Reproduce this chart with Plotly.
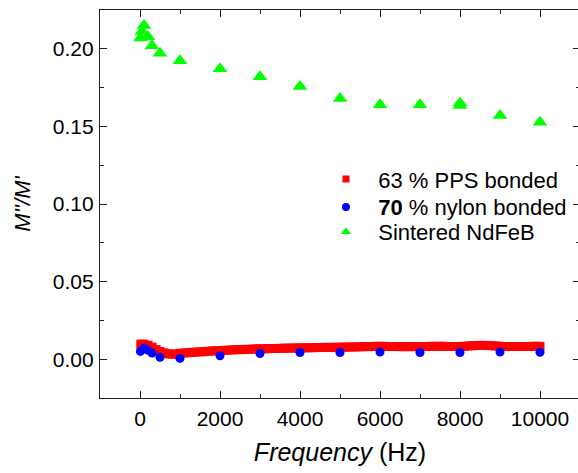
import plotly.graph_objects as go

# ---- data ----
pps_freq = [20, 50, 100, 200, 300, 400, 500, 600, 700, 800, 900,
            1000, 1100, 1200, 1300, 1400, 1500, 1600, 1700, 1800, 1900,
            2000, 2100, 2200, 2300, 2400, 2500, 2600, 2700, 2800, 2900,
            3000, 3100, 3200, 3300, 3400, 3500, 3600, 3700, 3800, 3900,
            4000, 4100, 4200, 4300, 4400, 4500, 4600, 4700, 4800, 4900,
            5000, 5100, 5200, 5300, 5400, 5500, 5600, 5700, 5800, 5900,
            6000, 6100, 6200, 6300, 6400, 6500, 6600, 6700, 6800, 6900,
            7000, 7100, 7200, 7300, 7400, 7500, 7600, 7700, 7800, 7900,
            8000, 8100, 8200, 8300, 8400, 8500, 8600, 8700, 8800, 8900,
            9000, 9100, 9200, 9300, 9400, 9500, 9600, 9700, 9800, 9900,
            10000]
pps_ratio = [0.0096, 0.0097, 0.0096, 0.0090, 0.0078, 0.0062, 0.0050, 0.0041, 0.0035, 0.0032, 0.0034,
             0.0038, 0.0040, 0.0042, 0.0044, 0.0046, 0.0047, 0.0049, 0.0051, 0.0053, 0.0054,
             0.0056, 0.0057, 0.0058, 0.0060, 0.0061, 0.0062, 0.0063, 0.0063, 0.0065, 0.0066,
             0.0067, 0.0067, 0.0068, 0.0069, 0.0069, 0.0070, 0.0071, 0.0071, 0.0072, 0.0072,
             0.0073, 0.0073, 0.0074, 0.0074, 0.0075, 0.0075, 0.0076, 0.0076, 0.0076, 0.0077,
             0.0077, 0.0078, 0.0078, 0.0079, 0.0079, 0.0080, 0.0081, 0.0081, 0.0082, 0.0083,
             0.0083, 0.0083, 0.0082, 0.0082, 0.0082, 0.0081, 0.0081, 0.0081, 0.0081, 0.0081,
             0.0081, 0.0082, 0.0082, 0.0083, 0.0083, 0.0083, 0.0083, 0.0082, 0.0082, 0.0082,
             0.0082, 0.0083, 0.0085, 0.0087, 0.0088, 0.0089, 0.0089, 0.0088, 0.0087, 0.0085,
             0.0083, 0.0082, 0.0082, 0.0082, 0.0082, 0.0082, 0.0082, 0.0082, 0.0083, 0.0083,
             0.0083]

nylon_freq = [10, 100, 200, 300, 500, 1000, 2000, 3000, 4000, 5000, 6000, 7000, 8000, 9000, 10000]
nylon_ratio = [0.0050, 0.0070, 0.0058, 0.0040, 0.0012, 0.0005, 0.0022, 0.0036, 0.0043, 0.0043,
               0.0046, 0.0043, 0.0043, 0.0046, 0.0045]

ndfeb_freq = [10, 50, 100, 200, 300, 500, 1000, 2000, 3000, 4000, 5000, 6000, 7000, 8000, 8000, 9000, 10000]
ndfeb_ratio = [0.2070, 0.2112, 0.2150, 0.2078, 0.2020, 0.1972, 0.1923, 0.1872, 0.1820, 0.1757, 0.1680,
               0.1640, 0.1640, 0.1635, 0.1650, 0.1570, 0.1526]

x_ticks = [0, 2000, 4000, 6000, 8000, 10000]
x_tick_labels = ["0", "2000", "4000", "6000", "8000", "10000"]
y_ticks = [0, 0.05, 0.10, 0.15, 0.20]
y_tick_labels = ["0.00", "0.05", "0.10", "0.15", "0.20"]

names = ["63 % PPS bonded", "<b>70</b> % nylon bonded", "Sintered NdFeB"]
colors = ["#ff0000", "#0000ff", "#00ff00"]
symbols = ["square", "circle", "triangle-up"]

FONT = "Liberation Sans, Arial, sans-serif"

fig = go.Figure()
series = [(pps_freq, pps_ratio, 9), (nylon_freq, nylon_ratio, 9), (ndfeb_freq, ndfeb_ratio, 13)]
for (xs, ys, sz), c, s in zip(series, colors, symbols):
    fig.add_trace(go.Scatter(x=xs, y=ys, mode="markers", showlegend=False, hoverinfo="skip",
                             marker=dict(color=c, symbol=s, size=sz, line=dict(width=0))))

# legend-only entries with small markers, each in its own legend for exact row placement
legend_ids = ["legend", "legend2", "legend3"]
legend_rows = [0.564, 0.492, 0.428]
NB = "\u00a0\u00a0"
for n, c, s, sz, lid in zip(names, colors, symbols, [7, 8, 9], legend_ids):
    fig.add_trace(go.Scatter(x=[None], y=[None], mode="markers", name=NB + n, legend=lid,
                             marker=dict(color=c, symbol=s, size=sz, line=dict(width=0))))

axis_common = dict(showline=True, linecolor="#222", linewidth=1.2, mirror="ticks",
                   ticks="inside", ticklen=7, tickwidth=1.2, tickcolor="#222",
                   showgrid=False, zeroline=False, automargin=False,
                   tickfont=dict(family=FONT, size=21, color="black"))

fig.update_xaxes(range=[-1000, 11000], tickvals=x_ticks, ticktext=x_tick_labels,
                 ticklabelstandoff=2,
                 minor=dict(ticks="inside", ticklen=4, dtick=1000, tick0=0, tickcolor="#222"),
                 title=dict(text="<i>Frequency</i> (Hz)", font=dict(family=FONT, size=25, color="black"),
                            standoff=14),
                 **axis_common)
fig.update_yaxes(range=[-0.025, 0.225], tickvals=y_ticks, ticktext=y_tick_labels,
                 ticklabelstandoff=1,
                 minor=dict(ticks="inside", ticklen=4, dtick=0.025, tick0=0, tickcolor="#222"),
                 title=dict(text="<i>M''/M'</i>", font=dict(family=FONT, size=22, color="black"),
                            standoff=16),
                 **axis_common)

legend_common = dict(x=0.4708, xanchor="left", yanchor="middle",
                     font=dict(family=FONT, size=22, color="black"),
                     bgcolor="rgba(0,0,0,0)", borderwidth=0)
layout_legends = {lid: dict(y=yy, **legend_common) for lid, yy in zip(legend_ids, legend_rows)}

fig.update_layout(width=582, height=473, margin=dict(l=100, r=2, t=10, b=75),
                  plot_bgcolor="white", paper_bgcolor="white", hovermode=False,
                  **layout_legends)

fig.write_html("out.html", config={"displayModeBar": False},
               post_script="document.body.style.margin='0';document.body.style.overflow='hidden';")
